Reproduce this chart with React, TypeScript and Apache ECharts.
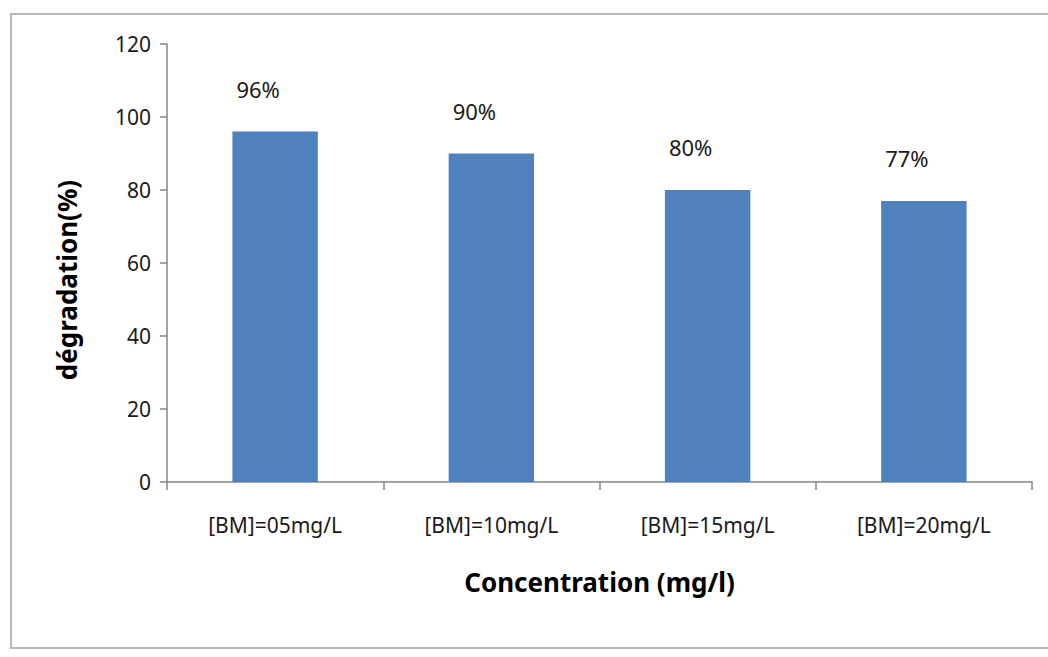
import React, { useEffect, useRef } from "react";
import * as echarts from "echarts";

const categories = ["[BM]=05mg/L", "[BM]=10mg/L", "[BM]=15mg/L", "[BM]=20mg/L"];
const degradation = [96, 90, 80, 77];
const yTicks = { min: 0, max: 120, interval: 20 };

export default function App() {
  const ref = useRef<HTMLDivElement>(null);
  useEffect(() => {
    if (!ref.current) return;
    const chart = echarts.init(ref.current, undefined, { renderer: "svg" });
    const font = "'Noto Sans', 'Open Sans', sans-serif";
    chart.setOption({
      animation: false,
      backgroundColor: "#ffffff",
      textStyle: { fontFamily: font },
      graphic: [
        {
          type: "rect",
          shape: { x: 11, y: 14, width: 1050, height: 634 },
          style: { fill: "none", stroke: "#b8b8b8", lineWidth: 2 },
          silent: true,
        },
      ],
      grid: { left: 167, top: 44, right: 16, bottom: 175 },
      xAxis: {
        type: "category",
        data: categories,
        boundaryGap: true,
        axisLine: { lineStyle: { color: "#868686", width: 1.5 } },
        axisTick: { show: true, length: 8, lineStyle: { color: "#868686", width: 1.5 } },
        axisLabel: { color: "#1a1a1a", fontSize: 21, margin: 32, fontFamily: font },
        name: "Concentration (mg/l)",
        nameLocation: "middle",
        nameGap: 87,
        nameTextStyle: { fontSize: 26, fontWeight: "bold", color: "#000", fontFamily: font },
      },
      yAxis: {
        type: "value",
        min: yTicks.min,
        max: yTicks.max,
        interval: yTicks.interval,
        axisLine: { show: true, lineStyle: { color: "#868686", width: 1.5 } },
        axisTick: { show: true, length: 7, lineStyle: { color: "#868686", width: 1.5 } },
        splitLine: { show: false },
        axisLabel: { color: "#1a1a1a", fontSize: 21, margin: 16, fontFamily: font },
        name: "dégradation(%)",
        nameLocation: "middle",
        nameGap: 87,
        nameTextStyle: {
          fontSize: 26,
          fontWeight: "bold",
          color: "#000",
          fontFamily: font,
          padding: [0, 34, 0, 0],
        },
      },
      series: [
        {
          type: "bar",
          data: degradation,
          barWidth: "39.5%",
          itemStyle: { color: "#4f81bd" },
          label: {
            show: true,
            position: "top",
            distance: 32,
            offset: [-17, 0],
            formatter: "{c}%",
            fontSize: 22,
            color: "#1a1a1a",
            fontFamily: font,
          },
        },
      ],
    });
    return () => chart.dispose();
  }, []);
  return (
    <div
      ref={ref}
      style={{ position: "fixed", left: 0, top: 0, width: 1048, height: 657 }}
    />
  );
}
